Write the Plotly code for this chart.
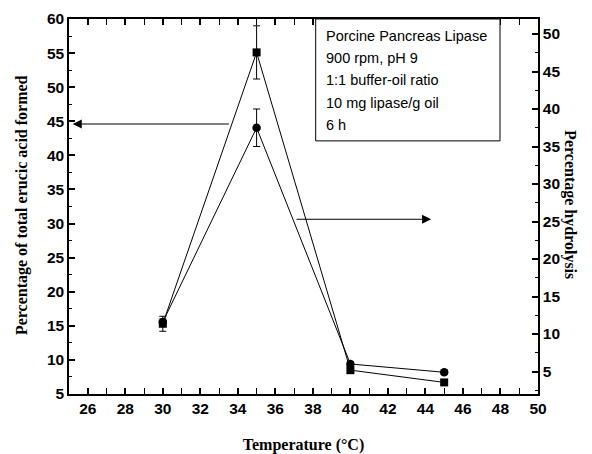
import plotly.graph_objects as go

# ---- data ----
temperature = [30, 35, 40, 45]
erucic_acid = [15.3, 55.1, 8.5, 6.7]          # squares, left axis
erucic_err = [1.1, 3.9, 0.5, 0.3]
hydrolysis = [11.6, 37.5, 6.0, 4.9]           # circles, right axis
hydrolysis_err = [0.4, 2.5, 0.3, 0.3]

x_ticks = [26, 28, 30, 32, 34, 36, 38, 40, 42, 44, 46, 48, 50]
y_left_ticks = [5, 10, 15, 20, 25, 30, 35, 40, 45, 50, 55, 60]
y_right_ticks = [5, 10, 15, 20, 25, 30, 35, 40, 45, 50]

info_lines = ["Porcine Pancreas Lipase", "900 rpm, pH 9", "1:1 buffer-oil ratio",
              "10 mg lipase/g oil", "6 h"]

x_range = [25, 50]
y_left_range = [5, 60]
y_right_range = [2, 52]

tick_font = dict(family="Liberation Sans, Arial", size=15.5, color="black", weight="bold")
title_font = dict(family="Liberation Serif, Times New Roman", size=16, color="black", weight="bold")

fig = go.Figure()
fig.add_trace(go.Scatter(
    x=temperature, y=erucic_acid, mode="lines+markers",
    line=dict(color="black", width=1),
    marker=dict(symbol="square", size=8, color="black"),
    error_y=dict(type="data", array=erucic_err, color="black", thickness=1, width=3.5),
    yaxis="y", showlegend=False))
fig.add_trace(go.Scatter(
    x=temperature, y=hydrolysis, mode="lines+markers",
    line=dict(color="black", width=1),
    marker=dict(symbol="circle", size=8.5, color="black"),
    error_y=dict(type="data", array=hydrolysis_err, color="black", thickness=1, width=3.5),
    yaxis="y2", showlegend=False))

def bold(vals):
    return [f"<b>{v}</b>" for v in vals]

axis_common = dict(showline=True, linecolor="black", linewidth=1.5, ticks="inside",
                   ticklen=6, tickwidth=1.5, tickcolor="black", showgrid=False,
                   zeroline=False, tickfont=tick_font, automargin=False, tickmode="array")

fig.update_layout(
    width=592, height=454,
    margin=dict(l=69, r=54, t=19, b=60),
    paper_bgcolor="white", plot_bgcolor="white",
    font=dict(family="Liberation Sans, Arial", size=15, color="black"),
    xaxis=dict(range=x_range, tickvals=x_ticks, ticktext=bold(x_ticks), mirror="allticks",
               minor=dict(dtick=1, tick0=25, ticks="inside", ticklen=3, tickwidth=1.2, tickcolor="black"),
               title=dict(text="Temperature (°C)", font=title_font, standoff=24),
               **axis_common),
    yaxis=dict(range=y_left_range, tickvals=y_left_ticks, ticktext=bold(y_left_ticks),
               minor=dict(dtick=2.5, tick0=5, ticks="inside", ticklen=3, tickwidth=1.2, tickcolor="black"),
               **axis_common),
    yaxis2=dict(range=y_right_range, tickvals=y_right_ticks, ticktext=bold(y_right_ticks),
                overlaying="y", side="right",
                minor=dict(dtick=2.5, tick0=5, ticks="inside", ticklen=3, tickwidth=1.2, tickcolor="black"),
                **axis_common),
)

# axis titles on the sides
fig.add_annotation(x=-0.1, y=0.504, xref="paper", yref="paper", text="Percentage of total erucic acid formed",
                   textangle=-90, showarrow=False, xanchor="center", yanchor="middle", font=title_font)
fig.add_annotation(x=1.068, y=0.504, xref="paper", yref="paper", text="Percentage hydrolysis",
                   textangle=90, showarrow=False, xanchor="center", yanchor="middle", font=title_font)

# arrows pointing to the associated axes
fig.add_annotation(x=25.2, y=44.6, ax=33.6, ay=44.6, xref="x", yref="y", axref="x", ayref="y",
                   text="", showarrow=True, arrowhead=2, arrowsize=1.8, arrowwidth=1,
                   arrowcolor="black")
fig.add_annotation(x=44.3, y=25.3, ax=37.05, ay=25.3, xref="x", yref="y2", axref="x", ayref="y2",
                   text="", showarrow=True, arrowhead=2, arrowsize=1.8, arrowwidth=1,
                   arrowcolor="black")

# info box
fig.add_shape(type="rect", xref="paper", yref="paper", x0=0.526, x1=0.919, y0=0.675, y1=1.0,
              line=dict(color="black", width=1), fillcolor="white", layer="above")
line_y = [0.955, 0.896, 0.837, 0.776, 0.717]
for txt, yy in zip(info_lines, line_y):
    fig.add_annotation(x=0.543, y=yy, xref="paper", yref="paper", text=txt, showarrow=False,
                       xanchor="left", yanchor="middle",
                       font=dict(family="Liberation Sans, Arial", size=14.5, color="black"))

fig.write_html("out.html")
